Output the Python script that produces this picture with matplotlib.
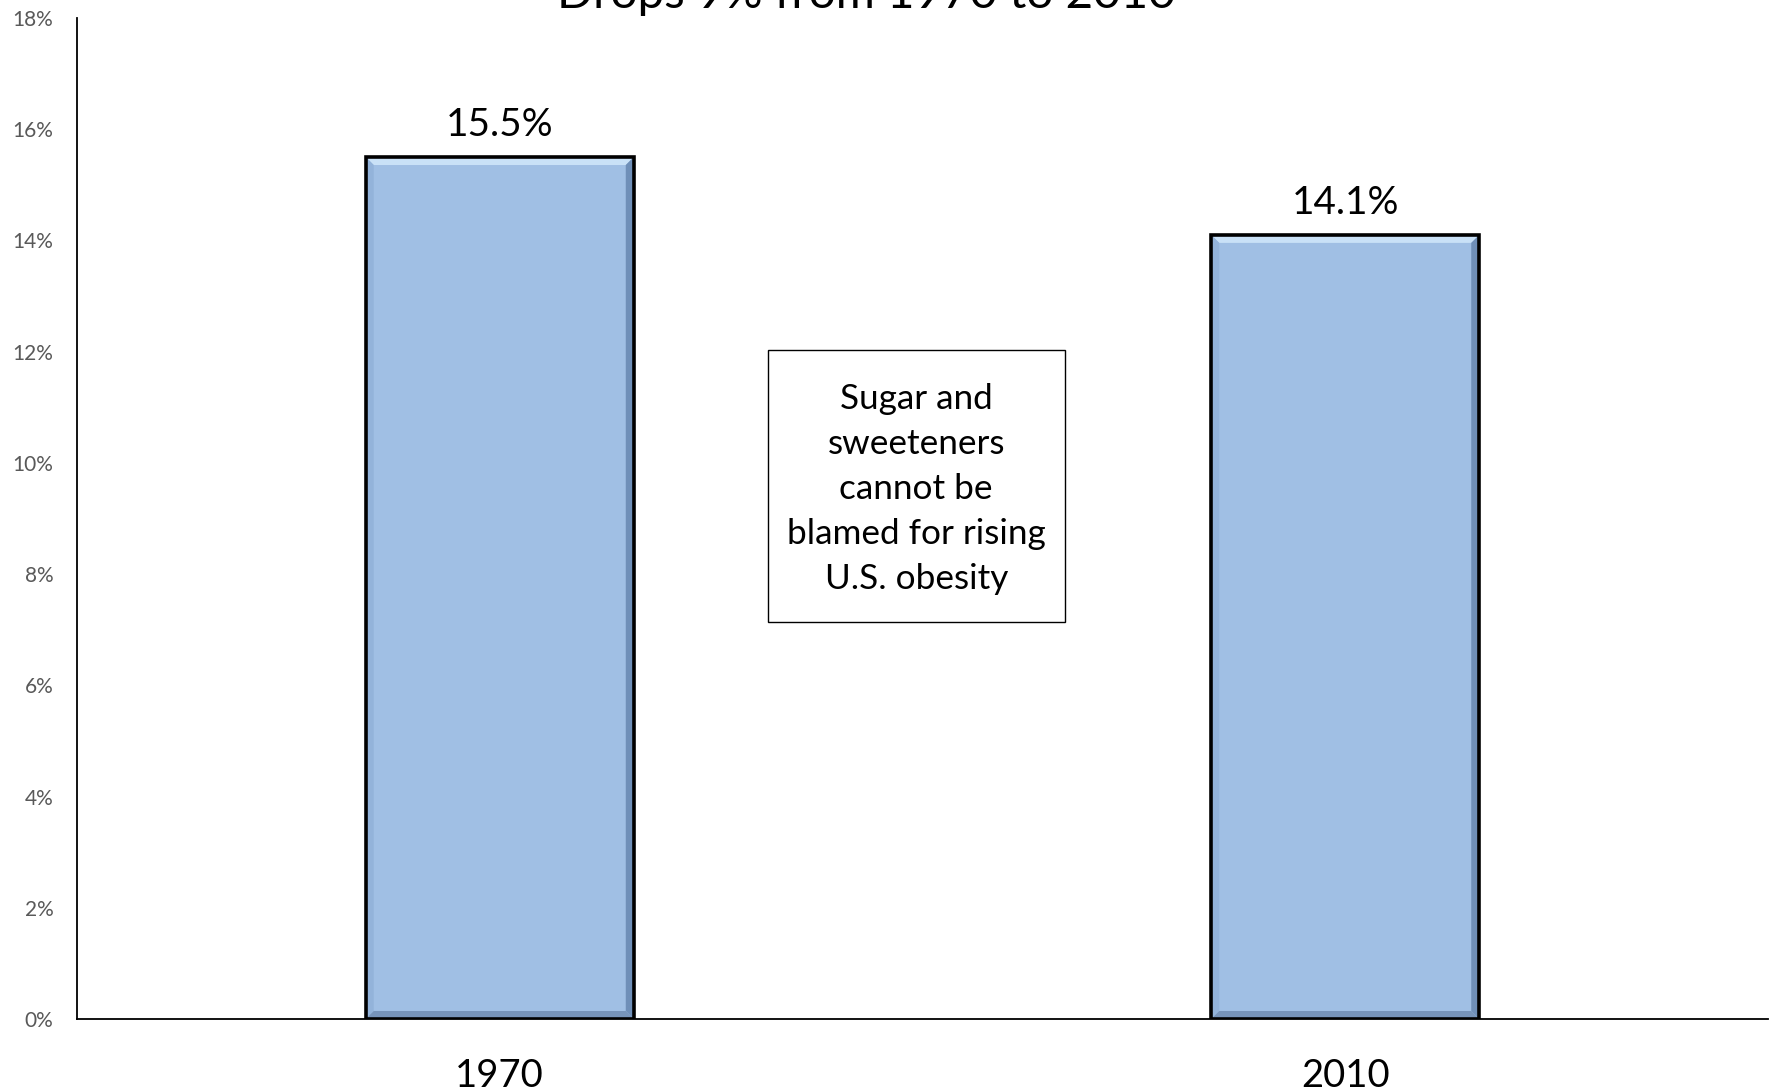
"""Sugar and sweeteners share of calories, 1970 vs 2010 — bevelled bar chart."""

import matplotlib.pyplot as plt
from matplotlib.patches import Rectangle
from matplotlib.ticker import FuncFormatter

plt.rcParams["font.family"] = ["Lato", "DejaVu Sans"]

years = ["1970", "2010"]
share_pct = [15.5, 14.1]
y_ticks = [0, 2, 4, 6, 8, 10, 12, 14, 16, 18]

title = "Drops 9% from 1970 to 2010"
note = "Sugar and\nsweeteners\ncannot be\nblamed for rising\nU.S. obesity"

BAR_FACE = "#A0BFE4"
BEVEL_TOP = "#C9E1F7"
BEVEL_LEFT = "#93B3DA"
BEVEL_RIGHT = "#6F8FB8"
BEVEL_BOTTOM = "#7794BA"
BAR_WIDTH = 0.317
BEVEL_PX = 8

DPI = 100
fig = plt.figure(figsize=(17.71, 10.91), dpi=DPI)
W, H = 1771, 1091
ax = fig.add_axes([77 / W, (H - 1019) / H, 1691 / W, (1019 - 18) / H])

x = range(len(years))
ax.bar(x, share_pct, width=BAR_WIDTH, color=BAR_FACE, linewidth=0, zorder=2)

ax.set_xlim(-0.5, len(years) - 0.5)
ax.set_ylim(0, 18)

# bevel strips, sized in pixels and converted to data units
px_x = BEVEL_PX * (ax.get_xlim()[1] - ax.get_xlim()[0]) / 1691
px_y = BEVEL_PX * (ax.get_ylim()[1] - ax.get_ylim()[0]) / (1019 - 18)
for xi, v in zip(x, share_pct):
    l, r = xi - BAR_WIDTH / 2, xi + BAR_WIDTH / 2
    ax.fill([l, r, r - px_x, l + px_x], [v, v, v - px_y, v - px_y],
            color=BEVEL_TOP, lw=0, zorder=3)
    ax.fill([l, l + px_x, l + px_x, l], [v, v - px_y, px_y, 0],
            color=BEVEL_LEFT, lw=0, zorder=3)
    ax.fill([r, r - px_x, r - px_x, r], [v, v - px_y, px_y, 0],
            color=BEVEL_RIGHT, lw=0, zorder=3)
    ax.fill([l, r, r - px_x, l + px_x], [0, 0, px_y, px_y],
            color=BEVEL_BOTTOM, lw=0, zorder=3)

ax.bar(x, share_pct, width=BAR_WIDTH, fill=False, edgecolor="black",
       linewidth=2.6, zorder=4)

for xi, v in zip(x, share_pct):
    ax.annotate(f"{v:.1f}%", (xi, v), xytext=(0, 15), textcoords="offset points",
                ha="center", va="baseline", fontsize=27.8, color="black")

ax.set_xticks(list(x))
ax.set_xticklabels(years, fontsize=27.5)
ax.set_yticks(y_ticks)
ax.yaxis.set_major_formatter(FuncFormatter(lambda v, _: f"{v:.0f}%"))
ax.tick_params(axis="y", length=0, pad=17, labelsize=15, labelcolor="#595959")
ax.tick_params(axis="x", length=0, pad=28)

for side in ("top", "right"):
    ax.spines[side].set_visible(False)
for side in ("left", "bottom"):
    ax.spines[side].set_linewidth(1.3)
    ax.spines[side].set_color("black")

# callout box
ax.add_patch(Rectangle((0.4086, 0.3966), 0.1755, 0.2717, transform=ax.transAxes,
                       fill=False, edgecolor="black", linewidth=1.0, zorder=5))
ax.text(0.4963, 0.529, note, transform=ax.transAxes, ha="center", va="center",
        fontsize=25.3, linespacing=1.5, zorder=6)

fig.text(866 / W, 1 - 8 / H, title, ha="center", va="baseline", fontsize=34.2)

fig.savefig("out.png", dpi=DPI)
